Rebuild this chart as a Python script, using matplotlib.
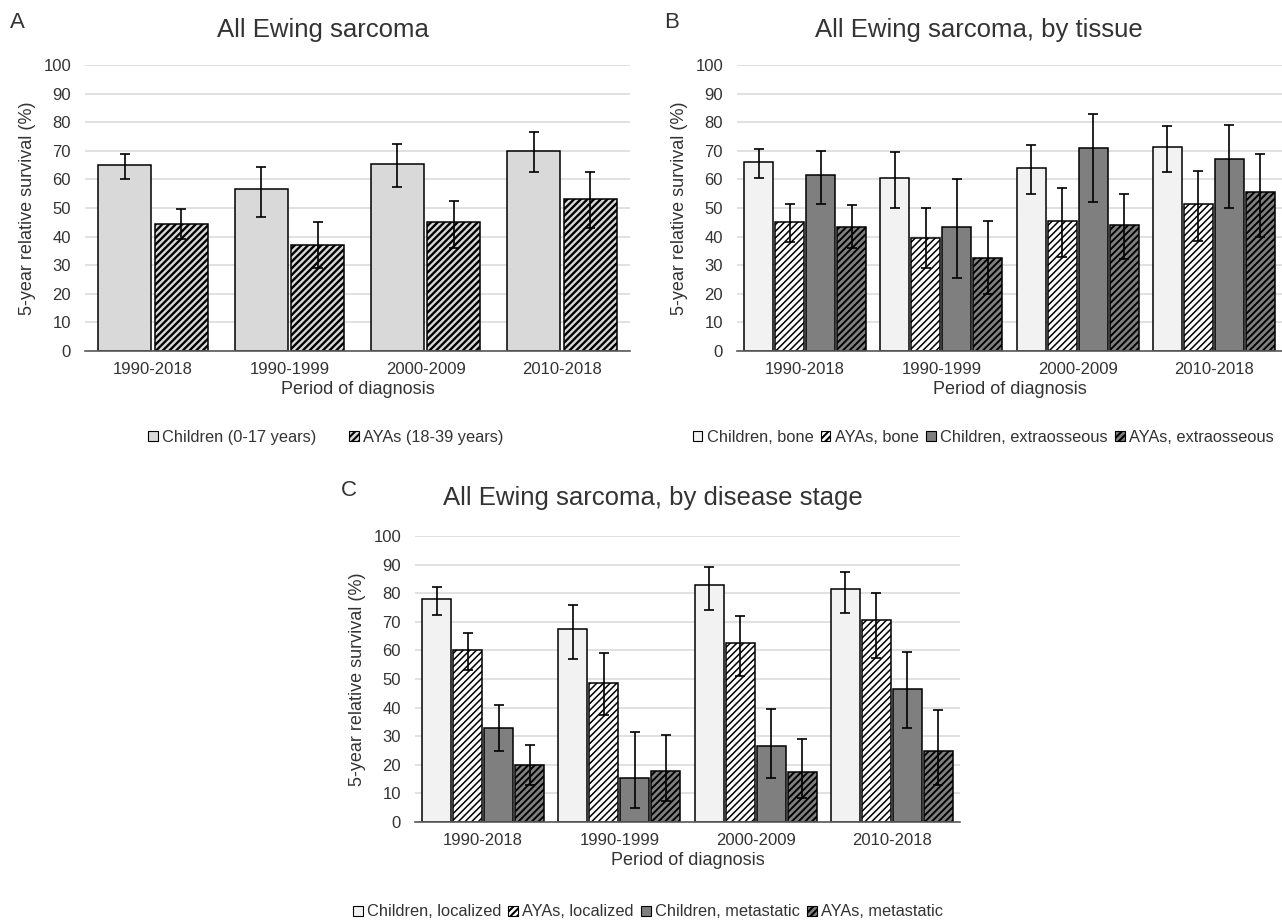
import numpy as np
import matplotlib.pyplot as plt
from matplotlib.patches import Patch

plt.rcParams['font.family'] = ['Liberation Sans', 'DejaVu Sans']
plt.rcParams['hatch.linewidth'] = 1.5
plt.rcParams['text.color'] = '#333333'
plt.rcParams['xtick.color'] = '#333333'
plt.rcParams['ytick.color'] = '#333333'
plt.rcParams['axes.labelcolor'] = '#333333'

periods = ['1990-2018', '1990-1999', '2000-2009', '2010-2018']

# panel A: all Ewing sarcoma
a_children = [65, 56.5, 65.5, 70]
a_children_lo = [60, 47, 57.5, 62.5]
a_children_hi = [69, 64.5, 72.5, 76.5]
a_aya = [44.5, 37, 45, 53]
a_aya_lo = [39, 29, 36, 43]
a_aya_hi = [49.5, 45, 52.5, 62.5]

# panel B: by tissue
b_child_bone = [66, 60.5, 64, 71.5]
b_child_bone_lo = [60.5, 50, 55, 62.5]
b_child_bone_hi = [70.5, 69.5, 72, 78.5]
b_aya_bone = [45, 39.5, 45.5, 51.5]
b_aya_bone_lo = [38, 29, 33, 38.5]
b_aya_bone_hi = [51.5, 50, 57, 63]
b_child_extra = [61.5, 43.5, 71, 67]
b_child_extra_lo = [51.5, 25.5, 52, 50]
b_child_extra_hi = [70, 60, 83, 79]
b_aya_extra = [43.5, 32.5, 44, 55.5]
b_aya_extra_lo = [36, 20, 32, 40]
b_aya_extra_hi = [51, 45.5, 55, 69]

# panel C: by disease stage
c_child_loc = [78, 67.5, 83, 81.5]
c_child_loc_lo = [72.5, 57, 74, 73]
c_child_loc_hi = [82, 76, 89, 87.5]
c_aya_loc = [60, 48.5, 62.5, 70.5]
c_aya_loc_lo = [53, 37.5, 51, 57.5]
c_aya_loc_hi = [66, 59, 72, 80]
c_child_met = [33, 15.5, 26.5, 46.5]
c_child_met_lo = [25, 5, 15.5, 33]
c_child_met_hi = [41, 31.5, 39.5, 59.5]
c_aya_met = [20, 18, 17.5, 25]
c_aya_met_lo = [13, 7.5, 8.5, 13]
c_aya_met_hi = [27, 30.5, 29, 39]

W, H = 1282, 924
fig = plt.figure(figsize=(W / 100, H / 100), dpi=100)


def px_axes(left, top, right, bottom):
    return fig.add_axes([left / W, 1 - bottom / H, (right - left) / W, (bottom - top) / H])


def draw_panel(ax, series, width, step):
    x = np.arange(len(periods))
    n = len(series)
    for i, (vals, lo, hi, face, hatch, hlw) in enumerate(series):
        pos = x + (i - (n - 1) / 2) * step
        vals = np.array(vals, dtype=float)
        err = [vals - np.array(lo), np.array(hi) - vals]
        with plt.rc_context({'hatch.linewidth': hlw}):
            ax.bar(pos, vals, width, color=face, edgecolor='black', linewidth=1.1,
                   hatch=hatch, zorder=2)
        ax.errorbar(pos, vals, yerr=err, fmt='none', ecolor='black', elinewidth=1.2,
                    capsize=3.3, capthick=1.2, zorder=3)
    ax.set_xlim(-0.5, len(periods) - 0.5)
    ax.set_ylim(0, 100)
    ax.set_yticks(range(0, 101, 10))
    ax.set_xticks(x)
    ax.set_xticklabels(periods)
    ax.tick_params(length=0, labelsize=12)
    ax.tick_params(axis='x', pad=8)
    ax.tick_params(axis='y', pad=10)
    ax.grid(axis='y', color='#d9d9d9', linewidth=1.1, zorder=0)
    ax.set_axisbelow(True)
    for s in ['top', 'right', 'left']:
        ax.spines[s].set_visible(False)
    ax.spines['bottom'].set_color('#595959')
    ax.spines['bottom'].set_linewidth(1.2)
    ax.spines['bottom'].set_zorder(4)
    ax.set_xlabel('Period of diagnosis', fontsize=13, labelpad=3)
    ax.set_ylabel('5-year relative survival (%)', fontsize=13, labelpad=5)


def add_legend(labels, faces, hatches, lws, cx, cy, colsp):
    handles = []
    for f, h, lw in zip(faces, hatches, lws):
        with plt.rc_context({'hatch.linewidth': lw}):
            handles.append(Patch(facecolor=f, edgecolor='black', hatch=h, linewidth=0.8))
    fig.legend(handles, labels, loc='center', bbox_to_anchor=(cx / W, 1 - cy / H),
               ncol=len(labels), frameon=False, fontsize=11.8, handlelength=0.6,
               handleheight=0.6, handletextpad=0.25, columnspacing=colsp,
               borderpad=0, borderaxespad=0)


# A
axA = px_axes(85, 65, 630, 351)
draw_panel(axA, [
    (a_children, a_children_lo, a_children_hi, '#d9d9d9', None, 1.0),
    (a_aya, a_aya_lo, a_aya_hi, '#d9d9d9', '/////', 1.7),
], width=0.39, step=0.415)
fig.text(323 / W, 1 - 30 / H, 'All Ewing sarcoma', ha='center', va='center', fontsize=18.5)
fig.text(17 / W, 1 - 22 / H, 'A', ha='center', va='center', fontsize=16)
add_legend(['Children (0-17 years)', 'AYAs (18-39 years)'],
           ['#d9d9d9', '#d9d9d9'], [None, '/////'], [1.0, 1.7], 326, 437, 2.0)

# B
axB = px_axes(737, 65, 1282, 351)
draw_panel(axB, [
    (b_child_bone, b_child_bone_lo, b_child_bone_hi, '#f2f2f2', None, 1.0),
    (b_aya_bone, b_aya_bone_lo, b_aya_bone_hi, 'white', '/////', 1.1),
    (b_child_extra, b_child_extra_lo, b_child_extra_hi, '#7f7f7f', None, 1.0),
    (b_aya_extra, b_aya_extra_lo, b_aya_extra_hi, '#7f7f7f', '/////', 1.4),
], width=0.213, step=0.228)
fig.text(979 / W, 1 - 30 / H, 'All Ewing sarcoma, by tissue', ha='center', va='center', fontsize=18.5)
fig.text(672 / W, 1 - 22 / H, 'B', ha='center', va='center', fontsize=16)
add_legend(['Children, bone', 'AYAs, bone', 'Children, extraosseous', 'AYAs, extraosseous'],
           ['#f2f2f2', 'white', '#7f7f7f', '#7f7f7f'], [None, '/////', None, '/////'],
           [1.0, 1.1, 1.0, 1.4], 983, 437, 0.45)

# C
axC = px_axes(415, 536, 960, 822)
draw_panel(axC, [
    (c_child_loc, c_child_loc_lo, c_child_loc_hi, '#f2f2f2', None, 1.0),
    (c_aya_loc, c_aya_loc_lo, c_aya_loc_hi, 'white', '/////', 1.1),
    (c_child_met, c_child_met_lo, c_child_met_hi, '#7f7f7f', None, 1.0),
    (c_aya_met, c_aya_met_lo, c_aya_met_hi, '#7f7f7f', '/////', 1.4),
], width=0.213, step=0.228)
fig.text(653 / W, 1 - 498 / H, 'All Ewing sarcoma, by disease stage', ha='center', va='center', fontsize=18.5)
fig.text(349 / W, 1 - 490 / H, 'C', ha='center', va='center', fontsize=16)
add_legend(['Children, localized', 'AYAs, localized', 'Children, metastatic', 'AYAs, metastatic'],
           ['#f2f2f2', 'white', '#7f7f7f', '#7f7f7f'], [None, '/////', None, '/////'],
           [1.0, 1.1, 1.0, 1.4], 648, 912, 0.45)

fig.savefig('out.png', dpi=100)
